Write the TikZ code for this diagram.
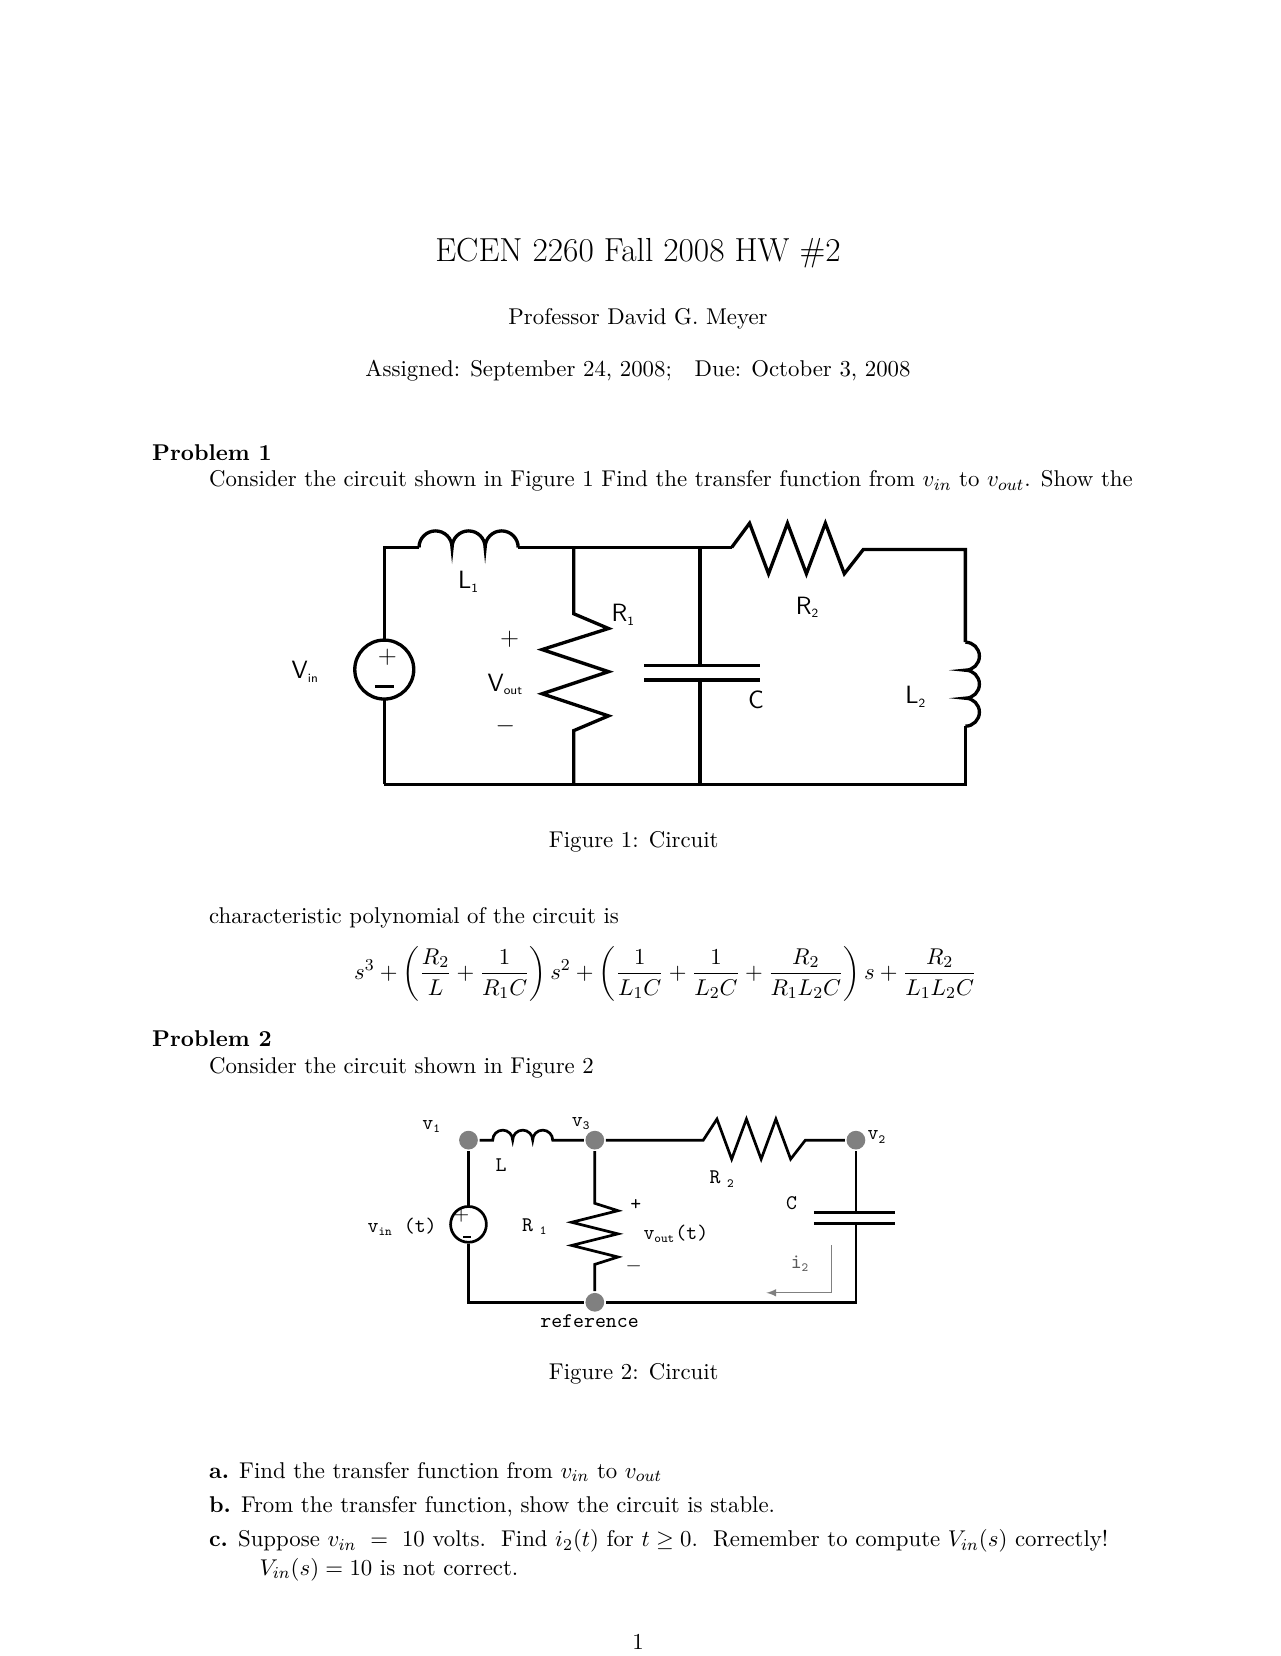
\documentclass[tikz,border=0pt,11pt]{standalone}
\usepackage{amsmath}
\begin{document}
\begin{tikzpicture}[x=0.017755cm,y=-0.017755cm,line width=1.6pt,>=latex,
  lbl/.style={font=\sffamily\large,inner sep=0pt},
  tlbl/.style={font=\ttfamily\small,inner sep=0pt},
  txt/.style={anchor=west,inner sep=0pt},
  dot/.style={circle,fill=gray,draw=none,inner sep=0pt,minimum size=9pt}]
	\useasboundingbox[fill=white] (0,0) rectangle (1216,1573);
	% header
	\node[font=\fontsize{16}{19}\selectfont] (title) at (606,240) {ECEN 2260 Fall 2008 HW \#2};
	\node (prof) at (606,303) {Professor David G. Meyer};
	\node (dates) at (606,352) {Assigned: September 24, 2008;\quad Due: October 3, 2008};
	\node[txt,font=\bfseries] (p1) at (143,430) {Problem 1};
	\node[txt] (p1txt) at (197,457) {Consider the circuit shown in Figure 1 Find the transfer function from $v_{in}$ to $v_{out}$. Show the};
	% circuit 1
	\coordinate (TL) at (365,520);
	\coordinate (BL) at (365,745);
	\coordinate (BR) at (917,745);
	\coordinate (TR) at (917,522);
	\draw (BL) -- (365,664);
	\draw (365,608) -- (TL) -- (398,520);
	\node[circle,draw,minimum size=56*0.017755cm,inner sep=0pt] (Vs) at (365,636) {};
	\node[font=\large] at (368,624) {$+$};
	\draw[line width=1.2pt] (356,652) -- (374,652);
	\draw (398,520) \foreach \k in {1,2,3}{ arc[start angle=180,end angle=360,radius=15.7] };
	\draw (492,520) -- (695,520);
	\draw (545,520) -- (545,583) -- (578,597) -- (515,617) -- (578,638) -- (515,659) -- (578,680) -- (545,694) -- (545,745);
	\draw (665,520) -- (665,632) (612,632) -- (722,632) (612,646) -- (722,646) (665,646) -- (665,745);
	\draw (695,520) -- (712,497) -- (730,545) -- (748,497) -- (766,545) -- (784,497) -- (802,545) -- (820,522) -- (TR) -- (917,610);
	\draw (917,610) \foreach \k in {1,2,3}{ arc[start angle=270,end angle=450,radius=13.3] };
	\draw (917,690) -- (BR) -- (BL);
	\node[lbl] at (445,553) {L\textsubscript{\tiny 1}};
	\node[lbl] at (592,584) {R\textsubscript{\tiny 1}};
	\node[lbl] at (767,577) {R\textsubscript{\tiny 2}};
	\node[lbl] at (718,665) {C};
	\node[lbl] at (870,662) {L\textsubscript{\tiny 2}};
	\node[lbl] at (290,638) {V\textsubscript{\tiny in}};
	\node[lbl] at (484,607) {$+$};
	\node[lbl] at (480,650) {V\textsubscript{\tiny out}};
	\node[lbl] at (480,690) {$-$};
	\node (fig1) at (602,800) {Figure 1: Circuit};
	\node[txt] (poly) at (197,872) {characteristic polynomial of the circuit is};
	\node (eq) at (632,925) {$\displaystyle s^3+\left(\frac{R_2}{L}+\frac{1}{R_1C}\right)s^2+\left(\frac{1}{L_1C}+\frac{1}{L_2C}+\frac{R_2}{R_1L_2C}\right)s+\frac{R_2}{L_1L_2C}$};
	\node[txt,font=\bfseries] (p2) at (143,987) {Problem 2};
	\node[txt] (p2txt) at (197,1014) {Consider the circuit shown in Figure 2};
	% circuit 2
	\node[dot] (v1) at (445,1083) {};
	\node[dot] (v3) at (565,1083) {};
	\node[dot] (v2) at (813,1083) {};
	\node[dot] (gnd) at (565,1237) {};
	\coordinate (B1) at (445,1237);
	\coordinate (B2) at (813,1237);
	\node[circle,draw,line width=1.3pt,minimum size=34*0.017755cm,inner sep=0pt] (Vs2) at (445,1163) {};
	\draw[line width=1.3pt] (v1) -- (Vs2) (Vs2) -- (B1) -- (gnd) -- (B2) -- (813,1162);
	\node[font=\small] at (438,1154) {$+$};
	\draw[line width=0.8pt] (440,1175) -- (447,1175);
	\draw[line width=1.3pt] (v1) -- (468,1083) \foreach \k in {1,2,3}{ arc[start angle=180,end angle=360,radius=9.5] } -- (v3);
	\draw[line width=1.3pt] (v3) -- (565,1143) -- (587,1150) -- (543,1161) -- (587,1172) -- (543,1183) -- (587,1194) -- (565,1201) -- (gnd);
	\draw[line width=1.3pt] (v3) -- (668,1083) -- (681,1063) -- (695,1101) -- (709,1063) -- (723,1101) -- (737,1063) -- (751,1101) -- (765,1083) -- (v2);
	\draw[line width=1.3pt] (v2) -- (813,1152) (773,1152) -- (850,1152) (773,1162) -- (850,1162);
	\draw[gray,line width=0.6pt,->] (790,1183) -- (790,1228) -- (728,1228);
	\node[tlbl] at (410,1070) {v\textsubscript{\tiny 1}};
	\node[tlbl] at (552,1067) {v\textsubscript{\tiny 3}};
	\node[tlbl] at (833,1080) {v\textsubscript{\tiny 2}};
	\node[tlbl] at (476,1107) {L};
	\node[tlbl] at (686,1120) {R\textsubscript{\tiny\ 2}};
	\node[tlbl] at (752,1143) {C};
	\node[tlbl] at (382,1165) {v\textsubscript{\tiny in} (t)};
	\node[tlbl] at (508,1165) {R\textsubscript{\tiny\ 1}};
	\node[tlbl] at (604,1145) {+};
	\node[tlbl] at (642,1172) {v\textsubscript{\tiny out}(t)};
	\node[tlbl] at (602,1203) {$-$};
	\node[tlbl,gray!70!black] at (760,1200) {i\textsubscript{\tiny 2}};
	\node[tlbl] at (560,1255) {reference};
	\node (fig2) at (602,1305) {Figure 2: Circuit};
	\node[txt] (qa) at (197,1398) {\textbf{a.} Find the transfer function from $v_{in}$ to $v_{out}$};
	\node[txt] (qb) at (197,1431) {\textbf{b.} From the transfer function, show the circuit is stable.};
	\node[txt] (qc) at (197,1464) {\textbf{c.} Suppose $v_{in}\ =\ 10$ volts.\ \ Find $i_2(t)$ for $t\geq 0$.\ \ Remember to compute $V_{in}(s)$ correctly!};
	\node[txt] (qc2) at (245,1491) {$V_{in}(s)=10$ is not correct.};
	\node (page) at (606,1560) {1};
\end{tikzpicture}
\end{document}
